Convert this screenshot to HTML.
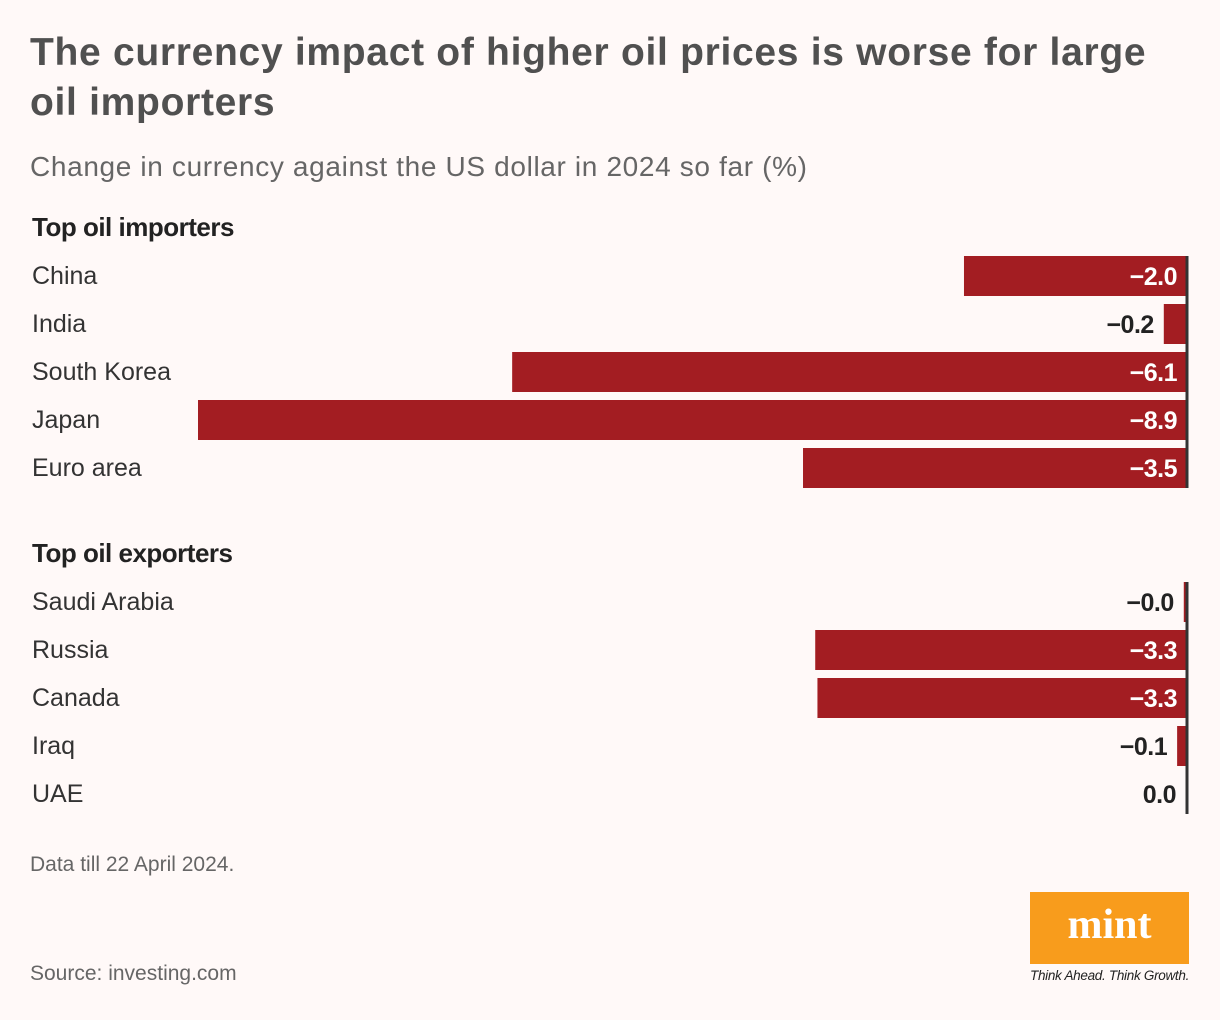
<!DOCTYPE html>
<html><head><meta charset="utf-8"><style>
body{margin:0;width:1220px;height:1020px;background:#fff9f8;font-family:"Liberation Sans",sans-serif;position:relative;overflow:hidden}
.t{position:absolute;white-space:nowrap}
</style></head><body>
<div class="t" style="left:30px;top:28px;font-size:39px;font-weight:bold;color:#505050;line-height:50px;letter-spacing:0.7px">The currency impact of higher oil prices is worse for large<br>oil importers</div>
<div class="t" style="left:30px;top:151px;font-size:28px;color:#666;letter-spacing:0.65px">Change in currency against the US dollar in 2024 so far (%)</div>
<svg id="chart" width="1220" height="1020" style="position:absolute;left:0;top:0"></svg>
<div class="t" style="left:30px;top:853px;font-size:21px;color:#666">Data till 22 April 2024.</div>
<div class="t" style="left:30px;top:962px;font-size:21px;color:#666">Source: investing.com</div>
<div style="position:absolute;left:1030px;top:892px;width:159px;height:72px;background:#f89c1c;color:#fff;font-family:'Liberation Serif',serif;font-weight:bold;font-size:42px;text-align:center;line-height:66px">mint</div>
<div class="t" style="left:1030px;top:968px;font-size:13.5px;font-style:italic;color:#222;letter-spacing:-0.3px">Think Ahead. Think Growth.</div>
<script>
const groups=["Top oil importers","Top oil exporters"];
const categories=["China","India","South Korea","Japan","Euro area","Saudi Arabia","Russia","Canada","Iraq","UAE"];
const values=[-2.0,-0.2,-6.07,-8.9,-3.45,-0.02,-3.34,-3.32,-0.08,0.0];
const labels=["−2.0","−0.2","−6.1","−8.9","−3.5","−0.0","−3.3","−3.3","−0.1","0.0"];
const svg=document.getElementById('chart');const NS="http://www.w3.org/2000/svg";
const x0=1186, scale=(1186-198)/8.9;
const xs=v=>x0+v*scale;
const rowY=i=>i<5?256+i*48:582+(i-5)*48;
function mk(t,a){const e=document.createElementNS(NS,t);for(const k in a)e.setAttribute(k,a[k]);svg.appendChild(e);return e;}
groups.forEach((g,gi)=>{const e=mk('text',{x:32,y:gi?562:236,'font-size':26,'font-weight':'bold',fill:'#222','letter-spacing':'-0.5'});e.textContent=g;

});
categories.forEach((c,i)=>{const y=rowY(i);
const t=mk('text',{x:32,y:y+28,'font-size':25,fill:'#333'});t.textContent=c;


const x=xs(values[i]);const w=Math.max(0,x0-x);
const r=mk('rect',{x:x,y:y,width:w,height:40,fill:'#a31d22'});


const inside=w>80;
const l=mk('text',{x:inside?x0-9:x-10,y:y+29,'font-size':25,'font-weight':'bold','text-anchor':'end',fill:inside?'#fff':'#222','letter-spacing':'-0.5'});l.textContent=labels[i];

});
[[256,488],[582,814]].forEach(([a,b])=>{const z=mk('line',{x1:x0+1,x2:x0+1,y1:a,y2:b,stroke:'#333','stroke-width':3});

});
</script>
</body></html>
